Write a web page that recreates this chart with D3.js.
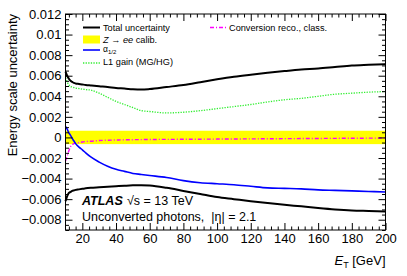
<!DOCTYPE html>
<html>
<head>
<meta charset="utf-8">
<script src="https://cdn.jsdelivr.net/npm/d3@7"></script>
<style>
  html, body { margin: 0; padding: 0; background: #fff; }
  svg { display: block; font-family: "Liberation Sans", Arial, Helvetica, sans-serif; }
</style>
</head>
<body>
<svg id="chart" width="407" height="276"></svg>
<script>
// photon energy grid (GeV)
const ET = [10, 11, 12, 13, 14, 15, 16, 18, 20, 22, 25, 30, 35, 40, 45, 50, 55, 60,
            70, 80, 90, 100, 110, 120, 130, 140, 150, 160, 170, 180, 190, 200];

const totalUp = [0.0064, 0.0060, 0.0057, 0.0055, 0.0054, 0.0053, 0.00525, 0.0052, 0.00515, 0.0051,
                 0.00505, 0.00497, 0.0049, 0.0048, 0.00475, 0.00468, 0.00465, 0.0047,
                 0.0049, 0.0051, 0.00537, 0.00565, 0.0059, 0.0061, 0.00628, 0.00645, 0.0066,
                 0.0067, 0.00685, 0.0070, 0.00707, 0.00713];

const totalDown = [-0.0062, -0.0057, -0.0054, -0.0053, -0.0052, -0.00515, -0.0051, -0.00505, -0.0050,
                   -0.00495, -0.0049, -0.00485, -0.0048, -0.00475, -0.0047, -0.00466, -0.00465,
                   -0.00468, -0.0049, -0.0052, -0.0055, -0.0058, -0.0060, -0.0062, -0.00638,
                   -0.00655, -0.0067, -0.00686, -0.0070, -0.0071, -0.00715, -0.0072];

const alpha12 = [0.00106, 0.0008, 0.00045, 0.0002, -0.0001, -0.00035, -0.0006, -0.00095, -0.0012,
                 -0.0015, -0.0019, -0.0024, -0.0028, -0.0031, -0.0033, -0.0035, -0.0036, -0.0037,
                 -0.0039, -0.0042, -0.0044, -0.0045, -0.0046, -0.00475, -0.0049, -0.00495,
                 -0.0050, -0.0051, -0.00515, -0.0052, -0.00525, -0.0053];

const l1Gain = [0.0058, 0.0054, 0.0051, 0.00495, 0.0049, 0.00485, 0.0048, 0.00475, 0.0047, 0.00465,
                0.0046, 0.0043, 0.0039, 0.0035, 0.0032, 0.0029, 0.0026, 0.00252,
                0.00238, 0.00245, 0.0026, 0.0028, 0.0030, 0.0032, 0.00345, 0.00366, 0.0038,
                0.0040, 0.0042, 0.0043, 0.0044, 0.00446];

const convReco = [-0.0023, -0.0018, -0.0013, -0.0009, -0.0007, -0.0006, -0.00055, -0.0005, -0.00045,
                  -0.0004, -0.00037, -0.0003, -0.00027, -0.00025, -0.00023, -0.00022, -0.00021,
                  -0.0002, -0.00019, -0.00018, -0.00017, -0.00016, -0.00015, -0.00014, -0.00013,
                  -0.00012, -0.00011, -0.0001, -0.00009, -0.00008, -0.00007, -0.00006];

// Z -> ee calibration band (flat)
const zeeBand = [-0.00065, 0.00065];

const xTicks = [20, 40, 60, 80, 100, 120, 140, 160, 180, 200];
const yTicks = [-0.008, -0.006, -0.004, -0.002, 0, 0.002, 0.004, 0.006, 0.008, 0.01, 0.012];

const svg = d3.select("#chart");
const m = { left: 65.5, right: 385.5, top: 14, bottom: 230 };

const x = d3.scaleLinear().domain([10, 200]).range([m.left, m.right]);
const y = d3.scaleLinear().domain([-0.009, 0.012]).range([m.bottom, m.top]);

const xMinor = d3.range(12, 200, 4).filter(v => v % 20 !== 0);
const yMinor = d3.range(-0.009, 0.0120001, 0.0005)
    .map(v => +v.toFixed(4))
    .filter(v => !yTicks.some(t => Math.abs(t - v) < 1e-6));

// band
svg.append("rect")
    .attr("x", x(10)).attr("width", x(200) - x(10))
    .attr("y", y(zeeBand[1])).attr("height", y(zeeBand[0]) - y(zeeBand[1]))
    .attr("fill", "#ffff00");

const line = d3.line().x((d, i) => x(ET[i])).y(d => y(d)).curve(d3.curveMonotoneX);

const series = [
    { vals: convReco, color: "#ff00ff", w: 1.4, dash: "4,2,1,2" },
    { vals: l1Gain,   color: "#33ee33", w: 1.3, dash: "1.3,1.3" },
    { vals: alpha12,  color: "#0000ff", w: 1.6, dash: null },
    { vals: totalUp,  color: "#000",    w: 2,   dash: null },
    { vals: totalDown,color: "#000",    w: 2,   dash: null }
];

const plotG = svg.append("g");
series.forEach(s => {
    plotG.append("path")
        .attr("d", line(s.vals))
        .attr("fill", "none")
        .attr("stroke", s.color)
        .attr("stroke-width", s.w)
        .attr("stroke-dasharray", s.dash);
});

// axes, ticks inside (ATLAS style)
const yFmt = d => d === 0 ? "0" : d3.format(".3~f")(d);

function axisG(axis, tx, ty) {
    const g = svg.append("g").attr("transform", `translate(${tx},${ty})`).call(axis);
    g.select(".domain").remove();
    g.selectAll("line").attr("stroke", "#000");
    return g;
}

const yl = axisG(d3.axisLeft(y).tickValues(yTicks).tickSizeInner(-7).tickSizeOuter(0).tickPadding(4).tickFormat(yFmt), m.left, 0);
yl.selectAll("text").style("font-size", "13px").attr("fill", "#000");
axisG(d3.axisLeft(y).tickValues(yMinor).tickSizeInner(-3.5).tickSizeOuter(0).tickFormat(""), m.left, 0);
axisG(d3.axisRight(y).tickValues(yTicks).tickSizeInner(-7).tickSizeOuter(0).tickFormat(""), m.right, 0);
axisG(d3.axisRight(y).tickValues(yMinor).tickSizeInner(-3.5).tickSizeOuter(0).tickFormat(""), m.right, 0);

const xb = axisG(d3.axisBottom(x).tickValues(xTicks).tickSizeInner(-7).tickSizeOuter(0).tickPadding(4).tickFormat(d3.format("d")), 0, m.bottom);
xb.selectAll("text").style("font-size", "13px").attr("fill", "#000");
axisG(d3.axisBottom(x).tickValues(xMinor).tickSizeInner(-3.5).tickSizeOuter(0).tickFormat(""), 0, m.bottom);
axisG(d3.axisTop(x).tickValues(xTicks).tickSizeInner(-7).tickSizeOuter(0).tickFormat(""), 0, m.top);
axisG(d3.axisTop(x).tickValues(xMinor).tickSizeInner(-3.5).tickSizeOuter(0).tickFormat(""), 0, m.top);

// frame
svg.append("rect")
    .attr("x", m.left).attr("y", m.top)
    .attr("width", m.right - m.left).attr("height", m.bottom - m.top)
    .attr("fill", "none").attr("stroke", "#000").attr("stroke-width", 1);

// axis titles
svg.append("text")
    .attr("transform", `translate(17,${m.top}) rotate(-90)`)
    .attr("text-anchor", "end")
    .style("font-size", "13px")
    .text("Energy scale uncertainty");

const xt = svg.append("text")
    .attr("x", m.right).attr("y", 265)
    .attr("text-anchor", "end")
    .style("font-size", "13px");
xt.append("tspan").style("font-style", "italic").text("E");
xt.append("tspan").attr("dy", 3).style("font-size", "9px").text("T");
xt.append("tspan").attr("dy", -3).text("\u00a0[GeV]");

// legend
const lg = svg.append("g").style("font-size", "9.2px");
lg.append("line").attr("x1", 83).attr("x2", 100).attr("y1", 27.5).attr("y2", 27.5)
    .attr("stroke", "#000").attr("stroke-width", 2);
lg.append("text").attr("x", 103).attr("y", 31).text("Total uncertainty");

lg.append("rect").attr("x", 83).attr("y", 35.5).attr("width", 17).attr("height", 8).attr("fill", "#ffff00");
const zt = lg.append("text").attr("x", 103).attr("y", 42.5);
zt.append("tspan").style("font-style", "italic").text("Z");
zt.append("tspan").text("\u00a0\u2192\u00a0");
zt.append("tspan").style("font-style", "italic").text("ee");
zt.append("tspan").text("\u00a0calib.");

lg.append("line").attr("x1", 83).attr("x2", 100).attr("y1", 50).attr("y2", 50)
    .attr("stroke", "#0000ff").attr("stroke-width", 1.6);
const at = lg.append("text").attr("x", 103).attr("y", 51.5).style("font-size", "8.5px");
at.append("tspan").text("\u03b1");
at.append("tspan").attr("dy", 2.5).style("font-size", "6px").text("1/2");

lg.append("line").attr("x1", 83).attr("x2", 100).attr("y1", 63).attr("y2", 63)
    .attr("stroke", "#33ee33").attr("stroke-width", 1.3).attr("stroke-dasharray", "1.3,1.3");
lg.append("text").attr("x", 103).attr("y", 65).text("L1 gain (MG/HG)");

lg.append("line").attr("x1", 210).attr("x2", 226).attr("y1", 27.5).attr("y2", 27.5)
    .attr("stroke", "#ff00ff").attr("stroke-width", 1.4).attr("stroke-dasharray", "4,2,1,2");
lg.append("text").attr("x", 229).attr("y", 31).text("Conversion reco., class.");

// ATLAS label
const atl = svg.append("text").attr("x", 82).attr("y", 204.5).style("font-size", "12.5px");
atl.append("tspan").style("font-weight", "bold").style("font-style", "italic").text("ATLAS");
atl.append("tspan").attr("x", 127).text("\u221as = 13 TeV");

svg.append("text").attr("x", 82).attr("y", 220.5).style("font-size", "12.5px")
    .text("Unconverted photons,\u00a0\u00a0|\u03b7| = 2.1");
</script>
</body>
</html>
